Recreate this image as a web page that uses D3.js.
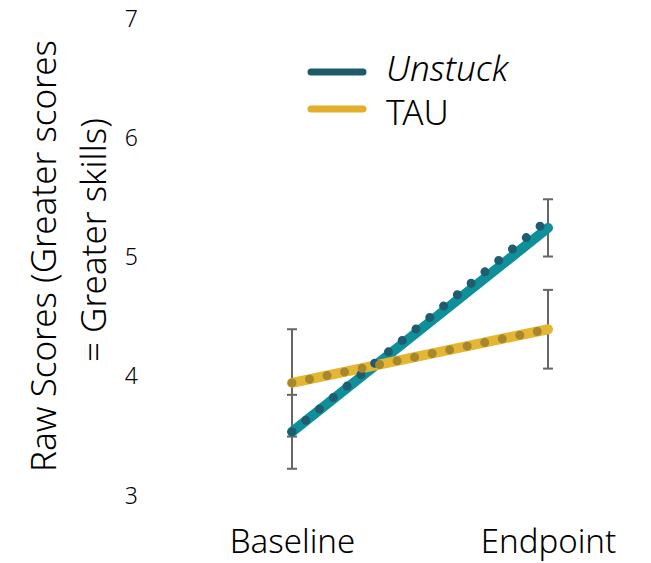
<!DOCTYPE html>
<html>
<head>
<meta charset="utf-8">
<script src="https://cdn.jsdelivr.net/npm/d3@7"></script>
<style>
  body { margin: 0; background: #fff; }
  text { font-family: "Noto Sans", Lato, sans-serif; fill: #000; font-weight: 300; }
</style>
</head>
<body>
<script>
// data
var timepoints = ["Baseline", "Endpoint"];
var groups = ["Unstuck", "TAU"];
var unstuckMeans = [3.53, 5.24];
var unstuckErr = [0.31, 0.24];
var unstuckObserved = [3.53, 5.31];
var tauMeans = [3.94, 4.39];
var tauErr = [0.45, 0.33];
var tauObserved = [3.94, 4.39];
var yTicks = [3, 4, 5, 6, 7];

var width = 651, height = 563;

var svg = d3.select("body").append("svg")
    .attr("width", width)
    .attr("height", height);

var x = d3.scalePoint().domain(timepoints).range([292, 548]);
var y = d3.scaleLinear().domain([3, 7]).range([495, 18]);

var series = [
    {name: groups[0], means: unstuckMeans, err: unstuckErr, obs: unstuckObserved,
     line: "#0e8f9a", dot: "#1e5d70", legend: "#1f5a6b"},
    {name: groups[1], means: tauMeans, err: tauErr, obs: tauObserved,
     line: "#e4b633", dot: "#a6872b", legend: "#e2ae2b"}
];

// y tick labels (no axis line)
var yAxis = d3.axisLeft(y).tickValues(yTicks).tickFormat(d3.format("d")).tickSize(0).tickPadding(0);
var gy = svg.append("g").attr("transform", "translate(138,0)").call(yAxis);
gy.select(".domain").remove();
gy.selectAll("text").style("font-size", "23px").style("font-family", "\"Noto Sans\"")
    .attr("dy", "0.35em").attr("fill", "#000");

// x labels
var xAxis = d3.axisBottom(x).tickSize(0).tickPadding(0);
var gx = svg.append("g").attr("transform", "translate(0,553)").call(xAxis);
gx.select(".domain").remove();
gx.selectAll("text").style("font-size", "33px").style("font-family", "\"Noto Sans\"")
    .attr("y", 0).attr("dy", 0).attr("fill", "#000");

// y title
var title = svg.append("text")
    .attr("transform", "rotate(-90)")
    .attr("text-anchor", "middle")
    .style("font-size", "35px");
title.append("tspan").attr("x", -256).attr("y", 56).text("Raw Scores (Greater scores");
title.append("tspan").attr("x", -240).attr("y", 106).text("= Greater skills)");

// error bars
series.forEach(function (s) {
    var g = svg.append("g").attr("stroke", "#666").attr("stroke-width", 2);
    timepoints.forEach(function (t, i) {
        var cx = x(t), lo = y(s.means[i] - s.err[i]), hi = y(s.means[i] + s.err[i]);
        g.append("line").attr("x1", cx).attr("x2", cx).attr("y1", lo).attr("y2", hi);
        g.append("line").attr("x1", cx - 5).attr("x2", cx + 5).attr("y1", lo).attr("y2", lo);
        g.append("line").attr("x1", cx - 5).attr("x2", cx + 5).attr("y1", hi).attr("y2", hi);
    });
});

var line = d3.line()
    .x(function (d, i) { return x(timepoints[i]); })
    .y(function (d) { return y(d); });

// solid lines
series.forEach(function (s) {
    svg.append("path")
        .attr("d", line(s.means))
        .attr("fill", "none")
        .attr("stroke", s.line)
        .attr("stroke-width", 10)
        .attr("stroke-linecap", "round");
});

// dotted overlay
series.forEach(function (s) {
    svg.append("path")
        .attr("d", line(s.obs))
        .attr("fill", "none")
        .attr("stroke", s.dot)
        .attr("stroke-width", 9)
        .attr("stroke-linecap", "round")
        .attr("stroke-dasharray", "0,17.9");
});

// legend
var legend = svg.append("g");
var legendLineY = [72, 109];
var legendTextY = [81, 125];
series.forEach(function (s, i) {
    legend.append("line")
        .attr("x1", 311).attr("x2", 363)
        .attr("y1", legendLineY[i]).attr("y2", legendLineY[i])
        .attr("stroke", s.legend)
        .attr("stroke-width", 7)
        .attr("stroke-linecap", "round");
    legend.append("text")
        .attr("x", 386).attr("y", legendTextY[i])
        .style("font-size", "35px")
        .style("font-style", i === 0 ? "italic" : "normal")
        .text(s.name);
});
</script>
</body>
</html>
